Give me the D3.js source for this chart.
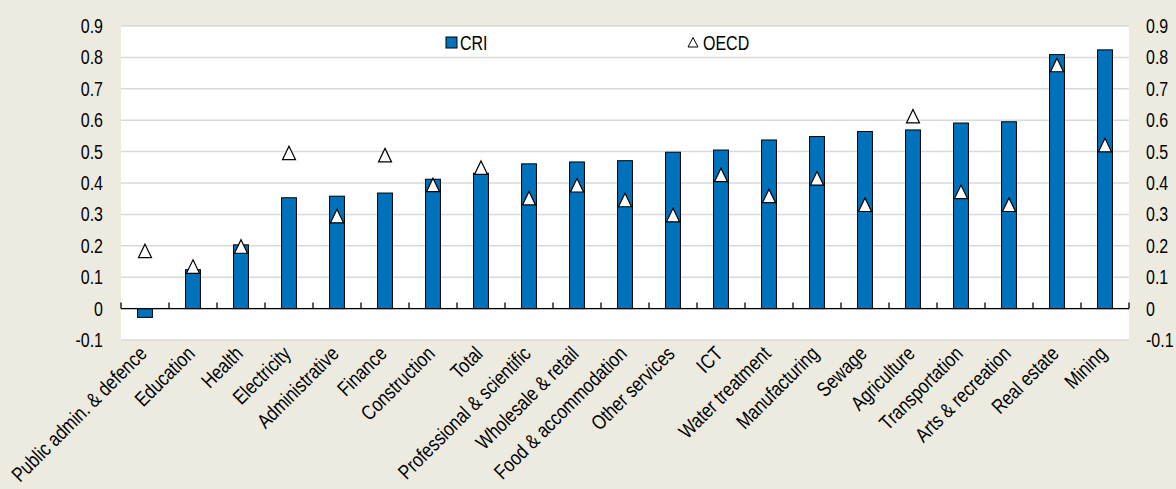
<!DOCTYPE html>
<html>
<head>
<meta charset="utf-8">
<script src="https://cdn.jsdelivr.net/npm/d3@7/dist/d3.min.js"></script>
<style>
  html, body { margin: 0; padding: 0; background: #EDEBE0; }
  svg { display: block; }
  text { font-family: "Liberation Sans", Arial, sans-serif; fill: #000; }
</style>
</head>
<body>
<script>
const categories = ["Public admin. & defence", "Education", "Health", "Electricity", "Administrative",
  "Finance", "Construction", "Total", "Professional & scientific", "Wholesale & retail",
  "Food & accommodation", "Other services", "ICT", "Water treatment", "Manufacturing",
  "Sewage", "Agriculture", "Transportation", "Arts & recreation", "Real estate", "Mining"];
const criValues = [-0.028, 0.124, 0.203, 0.353, 0.358, 0.368, 0.412, 0.431, 0.461, 0.467,
  0.471, 0.498, 0.505, 0.537, 0.548, 0.564, 0.569, 0.591, 0.595, 0.809, 0.824];
const oecdValues = [0.183, 0.133, 0.197, 0.495, 0.294, 0.488, 0.393, 0.448, 0.351, 0.392,
  0.345, 0.297, 0.425, 0.358, 0.414, 0.330, 0.612, 0.371, 0.330, 0.775, 0.520];
const yTicks = [-0.1, 0, 0.1, 0.2, 0.3, 0.4, 0.5, 0.6, 0.7, 0.8, 0.9];
const yTickLabels = ["-0.1", "0", "0.1", "0.2", "0.3", "0.4", "0.5", "0.6", "0.7", "0.8", "0.9"];
const seriesNames = ["CRI", "OECD"];

const W = 1176, H = 489;
const L = 121, R = 1129, T = 26, B = 340;
const BLUE = "#0072BC";
const SX = 0.82; // condensed text

const svg = d3.select("body").append("svg").attr("width", W).attr("height", H);
svg.append("rect").attr("width", W).attr("height", H).attr("fill", "#EDEBE0");

const x = d3.scaleBand().domain(categories).range([L, R]).paddingInner(0.69).paddingOuter(0.345);
const y = d3.scaleLinear().domain([-0.1, 0.9]).range([B, T]);

// plot area
svg.append("rect").attr("x", L).attr("y", y(0.9)).attr("width", R - L).attr("height", y(-0.1) - y(0.9)).attr("fill", "#fff");

// gridlines
svg.append("g").selectAll("line").data(yTicks).join("line")
  .attr("x1", L).attr("x2", R)
  .attr("y1", d => y(d)).attr("y2", d => y(d))
  .attr("stroke", "#D9D9D9").attr("stroke-width", 1.5);

// y tick labels left & right
const fs = 19.5;
svg.append("g").selectAll("text").data(yTicks).join("text")
  .attr("transform", d => `translate(103,${y(d)}) scale(${SX},1)`)
  .attr("text-anchor", "end").attr("dy", "0.36em")
  .style("font-size", fs + "px")
  .text((d, i) => yTickLabels[i]);
svg.append("g").selectAll("text").data(yTicks).join("text")
  .attr("transform", d => `translate(1146,${y(d)}) scale(${SX},1)`)
  .attr("text-anchor", "start").attr("dy", "0.36em")
  .style("font-size", fs + "px")
  .text((d, i) => yTickLabels[i]);

// bars
svg.append("g").selectAll("rect").data(categories).join("rect")
  .attr("x", d => x(d))
  .attr("width", x.bandwidth())
  .attr("y", (d, i) => y(Math.max(0, criValues[i])))
  .attr("height", (d, i) => Math.abs(y(criValues[i]) - y(0)))
  .attr("fill", BLUE).attr("stroke", "#000").attr("stroke-width", 1);

// x axis
const xAxis = svg.append("g");
xAxis.append("line").attr("x1", L).attr("x2", R).attr("y1", y(0)).attr("y2", y(0))
  .attr("stroke", "#000").attr("stroke-width", 1.3);
const bounds = categories.map(c => x(c) - x.step() * x.paddingInner() / 2);
bounds.push(R);
xAxis.selectAll("line.tick").data(bounds).join("line").attr("class", "tick")
  .attr("x1", d => d).attr("x2", d => d)
  .attr("y1", y(0)).attr("y2", y(0) - 6)
  .attr("stroke", "#000").attr("stroke-width", 1.3);

// triangles
const tri = (cx, cy, hw, up, down) => `M${cx},${cy - up}L${cx + hw},${cy + down}L${cx - hw},${cy + down}Z`;
svg.append("g").selectAll("path").data(categories).join("path")
  .attr("d", (d, i) => tri(x(d) + x.bandwidth() / 2, y(oecdValues[i]), 6.5, 7, 6.5))
  .attr("fill", "#fff").attr("stroke", "#000").attr("stroke-width", 1.2);

// category labels
svg.append("g").selectAll("text").data(categories).join("text")
  .attr("transform", d => `translate(${x(d) + x.bandwidth() / 2 + 3},355) rotate(-45) scale(${SX},1)`)
  .attr("text-anchor", "end")
  .style("font-size", "20.5px")
  .text(d => d);

// legend
svg.append("rect").attr("x", 446).attr("y", 37).attr("width", 11).attr("height", 11)
  .attr("fill", BLUE).attr("stroke", "#000").attr("stroke-width", 1);
svg.append("text").attr("transform", `translate(460,42.5) scale(${SX},1)`).attr("dy", "0.36em")
  .style("font-size", fs + "px").text(seriesNames[0]);
svg.append("path").attr("d", tri(693, 42.5, 5, 5, 4.5))
  .attr("fill", "#fff").attr("stroke", "#000").attr("stroke-width", 1);
svg.append("text").attr("transform", `translate(703,42.5) scale(${SX},1)`).attr("dy", "0.36em")
  .style("font-size", fs + "px").text(seriesNames[1]);
</script>
</body>
</html>
